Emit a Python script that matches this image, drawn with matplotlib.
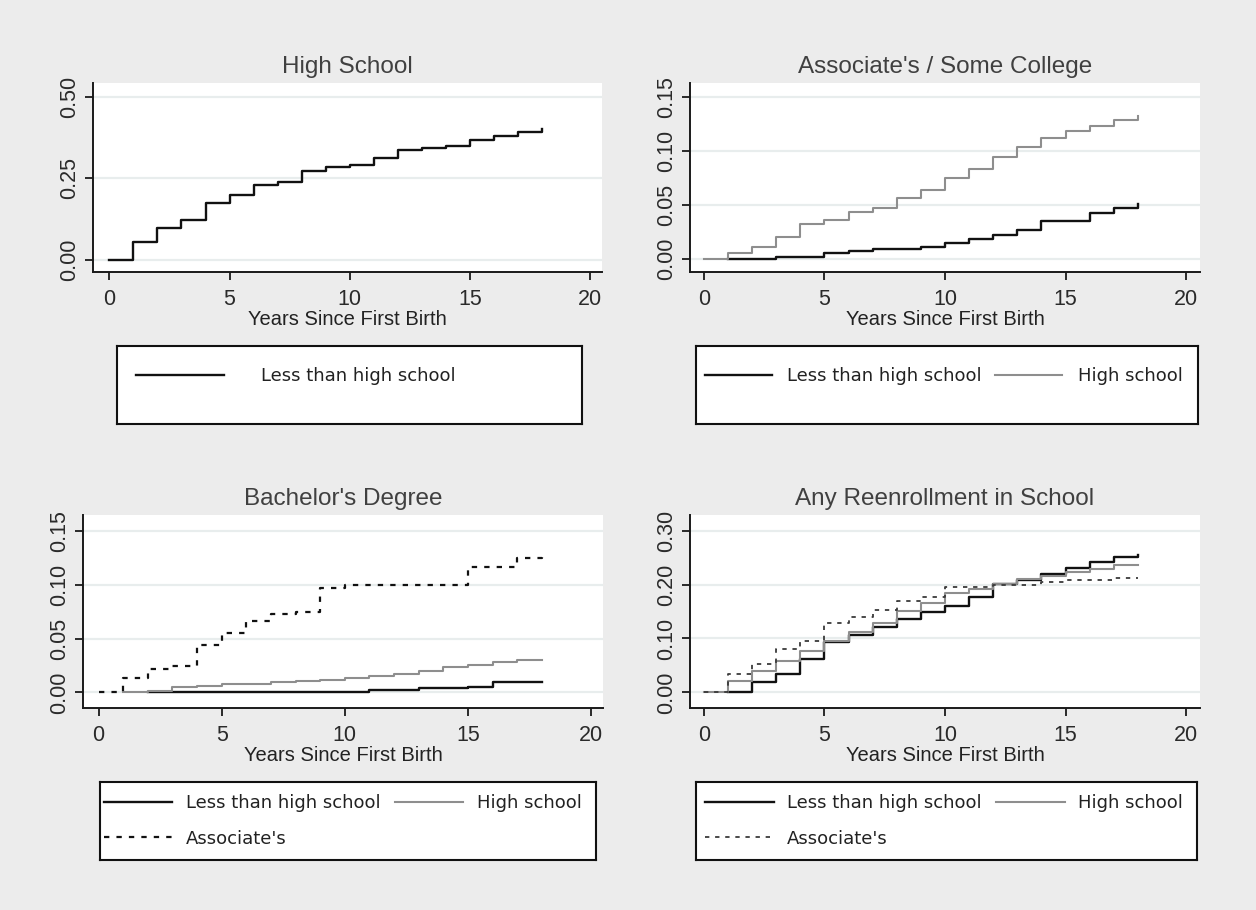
import numpy as np
import matplotlib
matplotlib.use("Agg")
import matplotlib.pyplot as plt
import matplotlib.ticker as ticker
from matplotlib.lines import Line2D

nan = np.nan

# data (cumulative proportion by years since first birth)
years = list(range(19))
titles = ["High School", "Associate's / Some College", "Bachelor's Degree", "Any Reenrollment in School"]
group_labels = ["Less than high school", "High school", "Associate's"]
x_ticks = [0, 5, 10, 15, 20]

hs_lths = [0, 0.054, 0.098, 0.122, 0.175, 0.199, 0.229, 0.240, 0.272, 0.284,
           0.291, 0.314, 0.339, 0.344, 0.350, 0.370, 0.381, 0.393, 0.403]

assoc_lths = [nan, 0, 0, 0.0015, 0.0015, 0.005, 0.007, 0.009, 0.009, 0.011,
              0.0145, 0.018, 0.0215, 0.027, 0.0345, 0.0345, 0.042, 0.047, 0.051]
assoc_hs = [0, 0.0052, 0.0105, 0.020, 0.032, 0.036, 0.043, 0.047, 0.056, 0.064,
            0.075, 0.083, 0.094, 0.103, 0.112, 0.118, 0.123, 0.128, 0.132]

ba_lths = [nan, nan, 0, 0, 0, 0, 0, 0, 0, 0,
           0, 0.002, 0.002, 0.0037, 0.0037, 0.0053, 0.0097, 0.0097, 0.0097]
ba_hs = [nan, 0, 0.0015, 0.0053, 0.006, 0.0075, 0.008, 0.010, 0.0106, 0.012,
         0.0138, 0.015, 0.017, 0.020, 0.0238, 0.0256, 0.028, 0.030, 0.030]
ba_assoc = [0, 0.013, 0.022, 0.025, 0.044, 0.055, 0.066, 0.073, 0.075, 0.097,
            0.100, 0.100, 0.100, 0.100, 0.100, 0.116, 0.116, 0.125, 0.128]

any_lths = [nan, 0, 0.019, 0.034, 0.0625, 0.094, 0.106, 0.121, 0.136, 0.150,
            0.161, 0.1775, 0.201, 0.209, 0.219, 0.231, 0.242, 0.251, 0.254]
any_hs = [0, 0.022, 0.040, 0.059, 0.077, 0.095, 0.1125, 0.129, 0.151, 0.166,
          0.184, 0.191, 0.201, 0.211, 0.216, 0.223, 0.229, 0.236, 0.236]
any_assoc = [0, 0.034, 0.052, 0.081, 0.096, 0.129, 0.139, 0.153, 0.169, 0.176,
             0.195, 0.195, 0.200, 0.200, 0.204, 0.209, 0.209, 0.2125, 0.2125]

BG = "#ececec"
W, H = 1256, 910
styles = {
    "Less than high school": dict(color="#111111", lw=1.7, ls="-"),
    "High school": dict(color="#8e8e8e", lw=1.5, ls="-"),
    "Associate's": dict(color="#111111", lw=1.6, ls=(0, (2.4, 3.2))),
}

panels = [
    dict(title=titles[0], series=[hs_lths], labels=group_labels[:1],
         box=(93, 83, 602, 272), xlim=(-0.68, 20.49), ylim=(-0.038, 0.544),
         yticks=[0, 0.25, 0.5],
         leg_box=(117, 346, 582, 424), ncol=1, yc=0.61,
         leg_kw=dict(handlelength=4.9, handletextpad=2.0, borderpad=1.05)),
    dict(title=titles[1], series=[assoc_lths, assoc_hs], labels=group_labels[:2],
         box=(690, 83, 1200, 272), xlim=(-0.57, 20.57), ylim=(-0.0123, 0.1626),
         yticks=[0, 0.05, 0.10, 0.15],
         leg_box=(696, 346, 1198, 424), ncol=2, yc=0.61,
         leg_kw=dict(handlelength=3.7, handletextpad=0.85, borderpad=0.5, columnspacing=0.75)),
    dict(title=titles[2], series=[ba_lths, ba_hs, ba_assoc], labels=group_labels,
         box=(83, 515, 603, 708), xlim=(-0.63, 20.48), ylim=(-0.0144, 0.1647),
         yticks=[0, 0.05, 0.10, 0.15],
         leg_box=(100, 782, 596, 860), ncol=2, yc=0.5,
         leg_kw=dict(handlelength=3.8, handletextpad=0.75, borderpad=0.2, columnspacing=0.8)),
    dict(title=titles[3], series=[any_lths, any_hs, any_assoc], labels=group_labels,
         box=(690, 515, 1200, 708), xlim=(-0.57, 20.57), ylim=(-0.029, 0.329),
         yticks=[0, 0.10, 0.20, 0.30],
         leg_box=(696, 782, 1197, 860), ncol=2, yc=0.5,
         leg_kw=dict(handlelength=3.8, handletextpad=0.75, borderpad=0.5, columnspacing=0.8)),
]


def px_axes(fig, box):
    l, t, r, b = box
    return fig.add_axes([l / W, 1 - b / H, (r - l) / W, (b - t) / H])


fig = plt.figure(figsize=(W / 100, H / 100), dpi=100, facecolor=BG)

for p in panels:
    ax = px_axes(fig, p["box"])
    ax.set_facecolor("white")
    for name, vals in zip(p["labels"], p["series"]):
        st = styles[name]
        lw = st["lw"]
        color = st["color"]
        if name == "Associate's" and p["title"] == titles[3]:
            # lighter dotted line in the last panel
            color, lw = "#3a3a3a", 1.3
        ax.plot(years, vals, drawstyle="steps-post", color=color, lw=lw,
                linestyle=st["ls"], zorder=3)

    ax.set_xlim(*p["xlim"])
    ax.set_ylim(*p["ylim"])
    ax.set_xticks(x_ticks)
    ax.set_yticks(p["yticks"])
    ax.yaxis.set_major_formatter(ticker.FormatStrFormatter("%.2f"))
    ax.set_axisbelow(True)
    ax.yaxis.grid(True, color="#e8eded", lw=1.6)
    for s in ["top", "right"]:
        ax.spines[s].set_visible(False)
    for s in ["left", "bottom"]:
        ax.spines[s].set_color("#1a1a1a")
        ax.spines[s].set_linewidth(1.4)
    ax.tick_params(direction="out", length=6, width=1.3, color="#1a1a1a",
                   labelsize=15.5, labelcolor="#2a2a2a")
    ax.tick_params(axis="x", pad=6)
    ax.tick_params(axis="y", pad=3)
    for lab in ax.get_yticklabels():
        lab.set_rotation(90)
        lab.set_va("center")
    for lab in ax.get_xticklabels() + ax.get_yticklabels():
        lab.set_family("Liberation Sans")
    ax.set_title(p["title"], fontsize=17.5, color="#404040", pad=7, family="Liberation Sans")
    ax.set_xlabel("Years Since First Birth", fontsize=14.5, color="#222222",
                  labelpad=0, family="Liberation Sans")

    # legend box below each panel
    lax = px_axes(fig, p["leg_box"])
    lax.set_facecolor("white")
    lax.set_xticks([])
    lax.set_yticks([])
    for s in lax.spines.values():
        s.set_color("#111111")
        s.set_linewidth(1.5)
    handles = []
    for name in p["labels"]:
        st = styles[name]
        color = st["color"]
        lw = st["lw"]
        if name == "Associate's" and p["title"] == titles[3]:
            color, lw = "#3a3a3a", 1.3
        handles.append(Line2D([], [], color=color, lw=lw, linestyle=st["ls"]))
    labels = list(p["labels"])
    if len(handles) == 3:
        # row-wise order for a 2-column legend
        handles = [handles[0], handles[2], handles[1]]
        labels = [labels[0], labels[2], labels[1]]
    lax.legend(handles, labels, ncol=p["ncol"], loc="center left",
               bbox_to_anchor=(0, p["yc"]), frameon=False, borderaxespad=0,
               labelspacing=0.95, prop=dict(family="DejaVu Sans", size=13),
               labelcolor="#222222", **p["leg_kw"])

fig.savefig("out.png", dpi=100, facecolor=BG)
